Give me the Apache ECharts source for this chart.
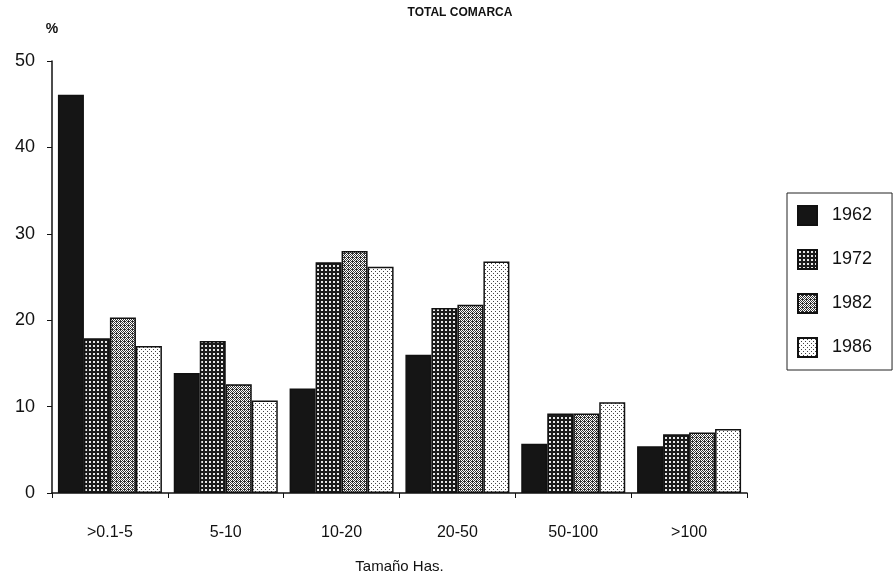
<!DOCTYPE html>
<html>
<head>
<meta charset="utf-8">
<script src="https://cdn.jsdelivr.net/npm/echarts@6/dist/echarts.min.js"></script>
<style>
  html, body { margin: 0; padding: 0; background: #fff; }
  #chart { width: 896px; height: 579px; }
</style>
</head>
<body>
<div id="chart"></div>
<script>
const categories = ['>0.1-5', '5-10', '10-20', '20-50', '50-100', '>100'];
const years = ['1962', '1972', '1982', '1986'];
const v1962 = [46.1, 13.9, 12.1, 16.0, 5.7, 5.4];
const v1972 = [17.9, 17.6, 26.7, 21.4, 9.2, 6.8];
const v1982 = [20.3, 12.6, 28.0, 21.8, 9.2, 7.0];
const v1986 = [17.0, 10.7, 26.2, 26.8, 10.5, 7.4];
const yTicks = [0, 10, 20, 30, 40, 50];

// small bitmap fills to mimic the old screen patterns
function makePattern(size, bg, draw) {
  const c = document.createElement('canvas');
  c.width = size;
  c.height = size;
  const ctx = c.getContext('2d');
  ctx.fillStyle = bg;
  ctx.fillRect(0, 0, size, size);
  draw(ctx);
  return { image: c, repeat: 'repeat' };
}

const fills = [
  '#151515',
  makePattern(4, '#1c1c1c', ctx => {
    ctx.fillStyle = '#e8e8e8';
    ctx.fillRect(1, 1, 2, 2);
  }),
  makePattern(4, '#ffffff', ctx => {
    ctx.fillStyle = '#333333';
    ctx.fillRect(0, 0, 1, 1);
    ctx.fillRect(2, 0, 1, 1);
    ctx.fillRect(1, 1, 1, 1);
    ctx.fillRect(3, 1, 1, 1);
    ctx.fillRect(0, 2, 1, 1);
    ctx.fillRect(2, 2, 1, 1);
    ctx.fillRect(1, 3, 1, 1);
    ctx.fillRect(3, 3, 1, 1);
    ctx.fillRect(0, 1, 1, 1);
  }),
  makePattern(4, '#ffffff', ctx => {
    ctx.fillStyle = '#444444';
    ctx.fillRect(1, 1, 1, 1);
    ctx.fillRect(3, 3, 1, 1);
  })
];

const values = [v1962, v1972, v1982, v1986];
const font = '"Liberation Sans", Arial, sans-serif';

const chart = echarts.init(document.getElementById('chart'));
chart.setOption({
  backgroundColor: '#ffffff',
  animation: false,
  title: {
    text: 'TOTAL COMARCA',
    left: 455,
    top: 2,
    textAlign: 'center',
    textStyle: { fontFamily: font, fontSize: 12, fontWeight: 'bold', color: '#111' }
  },
  legend: {
    orient: 'vertical',
    left: 787,
    top: 193,
    data: years,
    icon: 'rect',
    itemWidth: 19,
    itemHeight: 19,
    itemGap: 23,
    padding: [12, 20, 12, 10],
    borderColor: '#222',
    borderWidth: 1,
    textStyle: { fontFamily: font, fontSize: 18, color: '#111', padding: [0, 0, 0, 10] }
  },
  grid: { left: 52, right: 149, top: 61, bottom: 83 },
  xAxis: {
    type: 'category',
    data: categories,
    name: 'Tamaño Has.',
    nameLocation: 'middle',
    nameGap: 66,
    nameTextStyle: { fontFamily: font, fontSize: 15, color: '#111' },
    axisLine: { lineStyle: { color: '#111', width: 1.5 } },
    axisTick: { show: true, length: 5, lineStyle: { color: '#111' } },
    axisLabel: { fontFamily: font, fontSize: 16, color: '#111', margin: 32 }
  },
  yAxis: {
    type: 'value',
    min: 0,
    max: 50,
    interval: 10,
    name: '%',
    nameLocation: 'end',
    nameGap: 25,
    nameTextStyle: { fontFamily: font, fontSize: 14, fontWeight: 'bold', color: '#111', align: 'center' },
    splitLine: { show: false },
    axisLine: { show: true, lineStyle: { color: '#111', width: 1.5 } },
    axisTick: { show: true, length: 5, lineStyle: { color: '#111' } },
    axisLabel: {
      fontFamily: font, fontSize: 18, color: '#111', margin: 17,
      formatter: v => (yTicks.indexOf(v) >= 0 ? String(v) : '')
    }
  },
  series: years.map((y, i) => ({
    name: y,
    type: 'bar',
    data: values[i],
    barWidth: 26,
    barGap: '0%',
    itemStyle: { color: fills[i], borderColor: '#111', borderWidth: 1.5 }
  }))
});
</script>
</body>
</html>
